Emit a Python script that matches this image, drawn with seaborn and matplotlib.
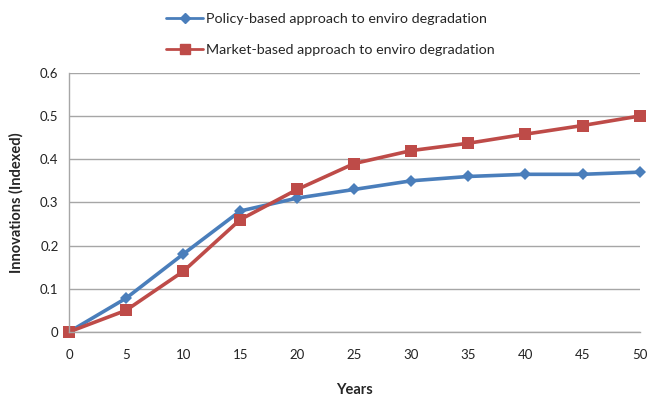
import matplotlib
matplotlib.use("Agg")
import matplotlib.pyplot as plt
import seaborn as sns
import pandas as pd
from matplotlib.lines import Line2D

years = [0, 5, 10, 15, 20, 25, 30, 35, 40, 45, 50]
policy_based = [0.0, 0.078, 0.18, 0.28, 0.31, 0.33, 0.35, 0.36, 0.365, 0.365, 0.37]
market_based = [0.0, 0.05, 0.14, 0.26, 0.33, 0.39, 0.42, 0.437, 0.458, 0.478, 0.50]
series_names = ["Policy-based approach to enviro degradation",
                "Market-based approach to enviro degradation"]
y_ticks = [0, 0.1, 0.2, 0.3, 0.4, 0.5, 0.6]
y_tick_labels = ["0", "0.1", "0.2", "0.3", "0.4", "0.5", "0.6"]
x_ticks = years

sns.set_theme(style="white")
plt.rcParams["font.family"] = ["Lato", "DejaVu Sans"]

df = pd.DataFrame({
    "Years": years * 2,
    "value": policy_based + market_based,
    "series": [series_names[0]] * len(years) + [series_names[1]] * len(years),
})

fig = plt.figure(figsize=(6.47, 3.98), dpi=100)
ax = fig.add_axes([0.1066, 0.166, 0.882, 0.651])

palette = {series_names[0]: "#4A7EBB", series_names[1]: "#BE4B48"}
markers = {series_names[0]: "D", series_names[1]: "s"}
sns.lineplot(data=df, x="Years", y="value", hue="series", style="series",
             palette=palette, markers=markers, dashes=False, ax=ax,
             linewidth=2.6, markeredgewidth=0, legend=False)
for line, ms in zip(ax.lines, [6.5, 9]):
    line.set_markersize(ms)
    line.set_clip_on(False)

ax.set_xlim(0, 50)
ax.set_ylim(0, 0.6)
ax.set_xticks(x_ticks)
ax.set_yticks(y_ticks)
ax.set_yticklabels(y_tick_labels)
ax.yaxis.grid(True, color="#A6A6A6", linewidth=1)
ax.xaxis.grid(False)
for side in ["top", "right"]:
    ax.spines[side].set_visible(False)
for side in ["left", "bottom"]:
    ax.spines[side].set_color("#A6A6A6")
    ax.spines[side].set_linewidth(1)
ax.tick_params(axis="both", which="both", direction="out", length=4,
               color="#A6A6A6", labelsize=9.5, labelcolor="#222222")
ax.tick_params(axis="x", pad=8)
ax.set_axisbelow(True)

ax.set_xlabel("Years", fontsize=10.5, fontweight="bold", labelpad=16)
ax.set_ylabel("Innovations (Indexed)", fontsize=10.5, fontweight="bold", labelpad=12)

handles = [
    Line2D([], [], color="#4A7EBB", marker="D", markersize=5, linewidth=2.0),
    Line2D([], [], color="#BE4B48", marker="s", markersize=7, linewidth=2.0),
]
fig.legend(handles, series_names, loc="upper left", bbox_to_anchor=(0.237, 1.0),
           frameon=False, fontsize=10.3, handlelength=2.6, handletextpad=0.15,
           labelspacing=1.35)

fig.savefig("out.png", dpi=100)
